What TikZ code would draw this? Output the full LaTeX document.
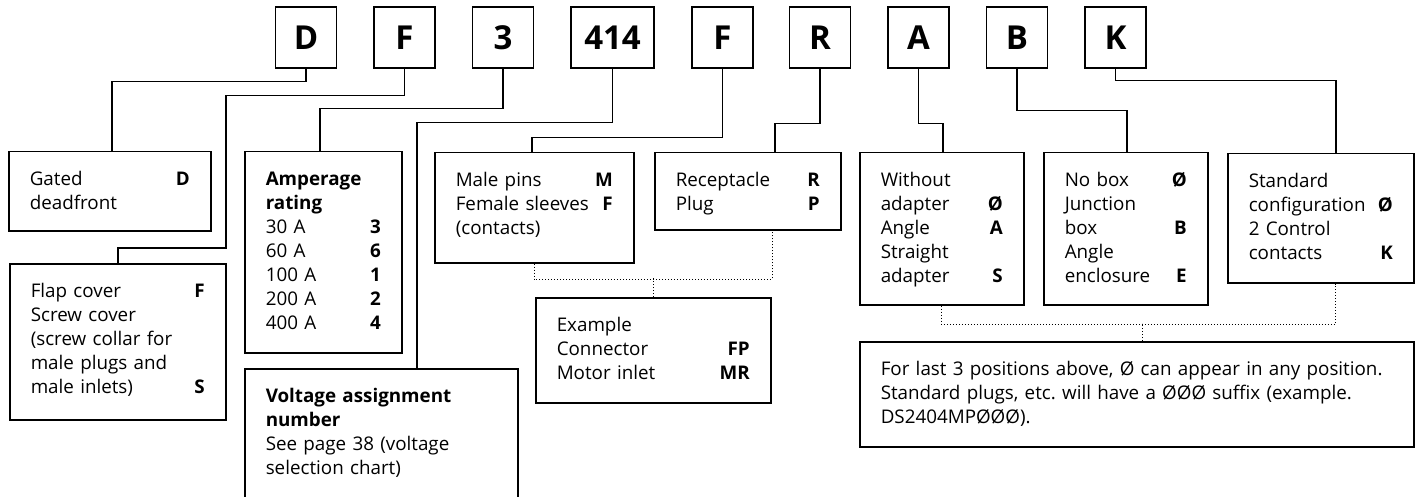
\documentclass[tikz,border=0pt]{standalone}
\usepackage{fontspec}
\setmainfont{Open Sans}
\frenchspacing

\begin{document}
\begin{tikzpicture}[x=1pt, y=-1pt,
    letter/.style = {draw, line width=1.5pt, minimum width=61pt, minimum height=61pt, inner sep=0pt, font=\fontsize{33}{33}\selectfont\bfseries},
    codebox/.style = {draw, line width=1.5pt, anchor=north west, inner xsep=21pt, inner ysep=0pt, text height=34pt, align=left, font=\fontsize{18.8}{24}\selectfont},
    link/.style = {draw, line width=1.5pt},
    hint/.style = {draw, line width=1pt, dash pattern=on 1pt off 2pt}
]
\clip (0,0) rectangle (1421,497);

% catalogue number
\node (cD) [letter] at (306,37.5) {D};
\node (cF) [letter] at (404.5,37.5) {F};
\node (c3) [letter] at (503,37.5) {3};
\node (c414) [letter, minimum width=83pt] at (612.5,37.5) {414};
\node (cF2) [letter] at (722.5,37.5) {F};
\node (cR) [letter] at (820,37.5) {R};
\node (cA) [letter] at (918.5,37.5) {A};
\node (cB) [letter] at (1017,37.5) {B};
\node (cK) [letter] at (1115.5,37.5) {K};

% option boxes
\node (gated) [codebox, text width=160pt, text depth=45pt] at (8,151) {Gated\hfill\textbf{D}\\deadfront};
\node (flap) [codebox, text width=174pt, text depth=122pt] at (9,263) {Flap cover\hfill\textbf{F}\\Screw cover\\(screw collar for\\male plugs and\\male inlets)\hfill\textbf{S}};
\node (amp) [codebox, text width=115pt, text depth=167pt] at (244,151) {\textbf{Amperage}\\\textbf{rating}\\30 A\hfill\textbf{3}\\60 A\hfill\textbf{6}\\100 A\hfill\textbf{1}\\200 A\hfill\textbf{2}\\400 A\hfill\textbf{4}};
\node (volt) [codebox, text width=231pt, text depth=118pt] at (244,368) {\textbf{Voltage assignment}\\\textbf{number}\\See page 38 (voltage\\selection chart)};
\node (male) [codebox, text width=157pt, text depth=76pt] at (434,152) {Male pins\hfill\textbf{M}\\Female sleeves\hfill\textbf{F}\\(contacts)};
\node (recep) [codebox, text width=144pt, text depth=43pt] at (654,152) {Receptacle\hfill\textbf{R}\\Plug\hfill\textbf{P}};
\node (example) [codebox, text width=193pt, text depth=71pt] at (535,297) {Example\\Connector\hfill\textbf{FP}\\Motor inlet\hfill\textbf{MR}};
\node (without) [codebox, text width=122pt, text depth=118pt] at (859,152) {Without\\adapter\hfill\textbf{Ø}\\Angle\hfill\textbf{A}\\Straight\\adapter\hfill\textbf{S}};
\node (nobox) [codebox, text width=122pt, text depth=118pt] at (1043,152) {No box\hfill\textbf{Ø}\\Junction\\box\hfill\textbf{B}\\Angle\\enclosure\hfill\textbf{E}};
\node (std) [codebox, text width=144pt, text depth=95pt] at (1227,153) {Standard\\configuration\hfill\textbf{Ø}\\2 Control\\contacts\hfill\textbf{K}};
\node (note) [codebox, text width=512pt, text depth=71pt] at (859,341) {For last 3 positions above, Ø can appear in any position.\\Standard plugs, etc. will have a ØØØ suffix (example.\\DS2404MPØØØ).};

% leaders
\draw [link] (cD.south) -- ++(0,13) -| ([xshift=104pt]gated.north west);
\draw [link] (cF.south) -- ++(0,27) -| ++(-178.5,152) -| ([xshift=109pt]flap.north west);
\draw [link] (c3.south) -- ++(0,40) -| ([xshift=76pt]amp.north west);
\draw [link] (c414.south) -- ++(0,54) -| ([xshift=173pt]volt.north west);
\draw [link] (cF2.south) -- ++(0,69) -| ([xshift=98pt]male.north west);
\draw [link] (cR.south) -- ++(0,55) -| ([xshift=121pt]recep.north west);
\draw [link] (cA.south) -- ++(0,55) -| ([xshift=84pt]without.north west);
\draw [link] (cB.south) -- ++(0,42) -| ([xshift=84pt]nobox.north west);
\draw [link] (cK.south) -- ++(0,12) -| ([xshift=109pt]std.north west);

% examples and note
\draw [hint] (male.south) -- ++(0,16) -| ([xshift=118pt]recep.south west);
\draw [hint] (example.north) -- ++(0,-19);
\draw [hint] (without.south) -- ++(0,19) -| ([xshift=108pt]std.south west);
\draw [hint] ([xshift=283pt]note.north west) -- ++(0,-18);

\end{tikzpicture}
\end{document}
